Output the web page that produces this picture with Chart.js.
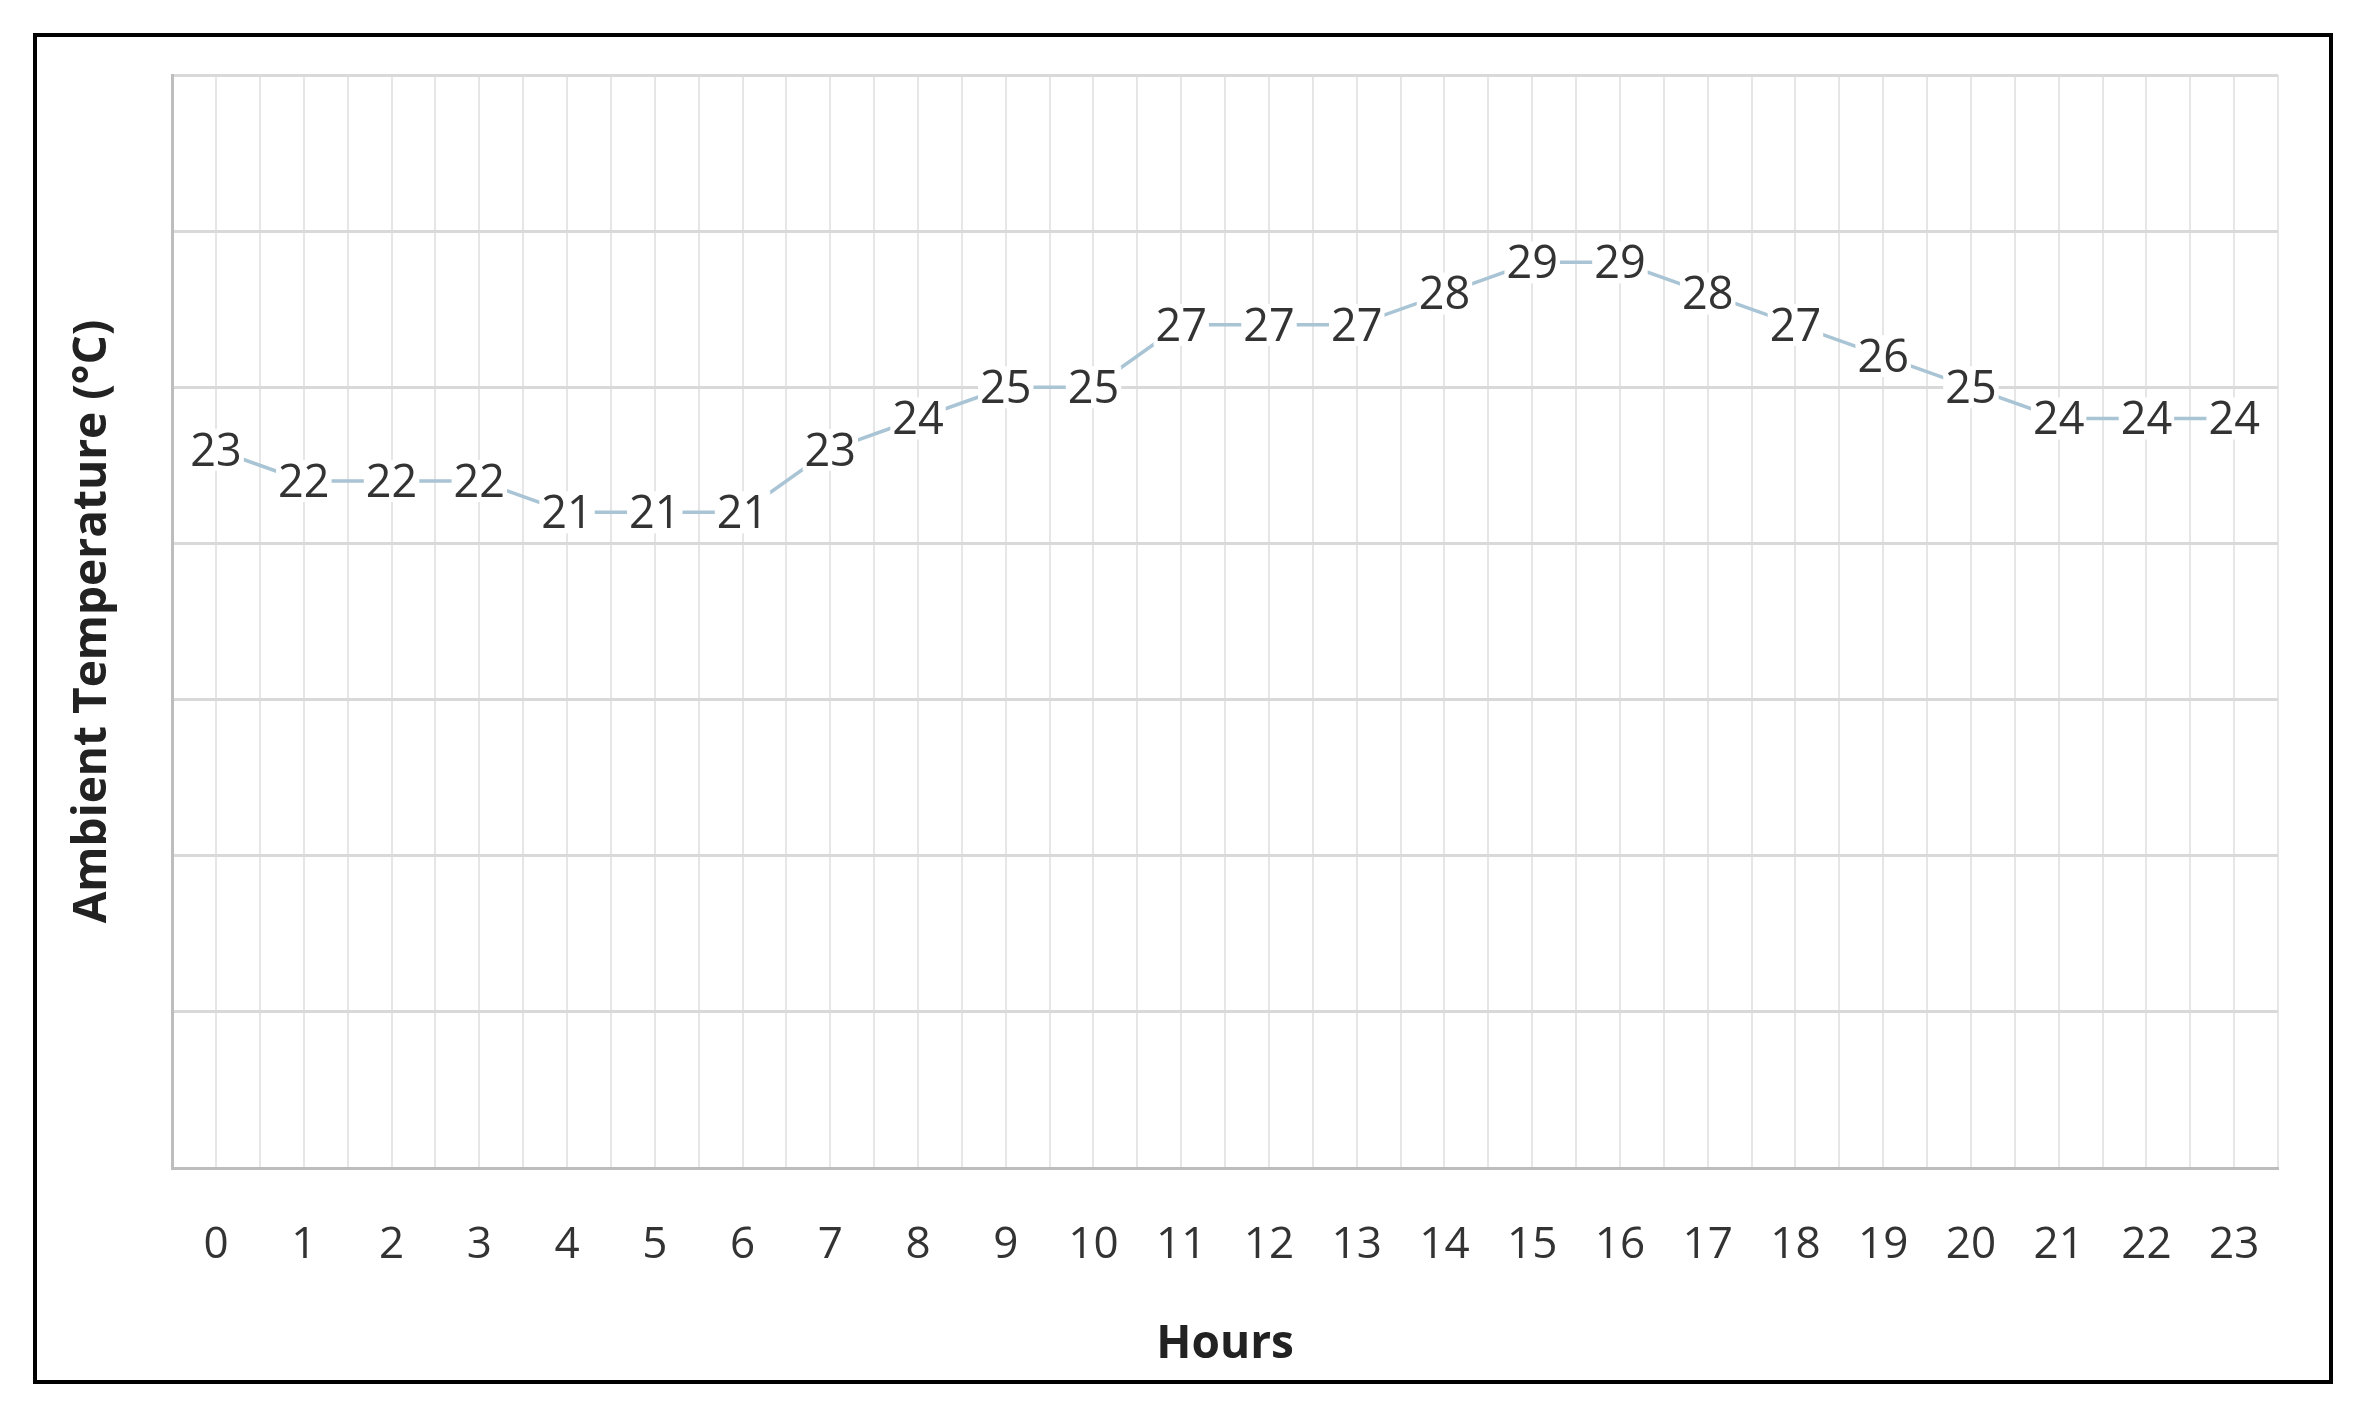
<!DOCTYPE html>
<html><head><meta charset="utf-8">
<script src="https://cdn.jsdelivr.net/npm/chart.js@4"></script>
<style>
html,body{margin:0;padding:0;background:#fff;}
#frame{position:absolute;left:33px;top:33px;width:2292px;height:1343px;border:4px solid #000;}
#c{position:absolute;left:0;top:0;}
</style></head><body>
<div id="frame"><canvas id="c" width="2292" height="1343"></canvas></div>
<script>
const hours=[0,1,2,3,4,5,6,7,8,9,10,11,12,13,14,15,16,17,18,19,20,21,22,23];
const temps=[23,22,22,22,21,21,21,23,24,25,25,27,27,27,28,29,29,28,27,26,25,24,24,24];
const yTicks=[0,5,10,15,20,25,30,35];
const FONT='"Open Sans", "Liberation Sans", sans-serif';
const labelPlugin={id:'lbl',afterDatasetsDraw(chart){
  const ctx=chart.ctx;const meta=chart.getDatasetMeta(0);
  ctx.save();ctx.font='45px '+FONT;ctx.textAlign='center';ctx.textBaseline='middle';
  meta.data.forEach((p,i)=>{const t=String(temps[i]);const w=ctx.measureText(t).width;
    ctx.fillStyle='#fff';ctx.fillRect(p.x-w/2-2,p.y-21,w+4,42);
    ctx.fillStyle='#333';ctx.fillText(t,p.x,p.y+3);});
  ctx.restore();}};
new Chart(document.getElementById('c'),{
  type:'line',
  data:{datasets:[{data:hours.map((h,i)=>({x:h,y:temps[i]})),borderColor:'#a9c4d4',borderWidth:3.5,pointRadius:0,tension:0}]},
  options:{responsive:false,animation:false,
    layout:{padding:{top:38,right:29,left:24,bottom:4}},
    plugins:{legend:{display:false},tooltip:{enabled:false}},
    scales:{
      x:{type:'linear',min:-0.5,max:23.5,
        ticks:{stepSize:0.5,autoSkip:false,color:'#333',font:{size:44,family:FONT},padding:51,maxRotation:0,
          callback:v=>Number.isInteger(v)?String(v):''},
        grid:{color:'#e6e6e6',lineWidth:2,drawTicks:false},
        border:{color:'#bdbdbd',width:3},
        title:{display:true,text:'Hours',color:'#222',font:{size:46,weight:'bold',family:FONT},padding:{top:-6}}},
      y:{min:0,max:35,afterBuildTicks:a=>{a.ticks=yTicks.map(v=>({value:v}));},
        ticks:{display:false},
        grid:{color:'#d9d9d9',lineWidth:3,drawTicks:false},
        border:{color:'#bdbdbd',width:3},
        title:{display:true,text:'Ambient Temperature (°C)',color:'#222',font:{size:46,weight:'bold',family:FONT},padding:{bottom:52}}}
    }},
  plugins:[labelPlugin]});
</script></body></html>
